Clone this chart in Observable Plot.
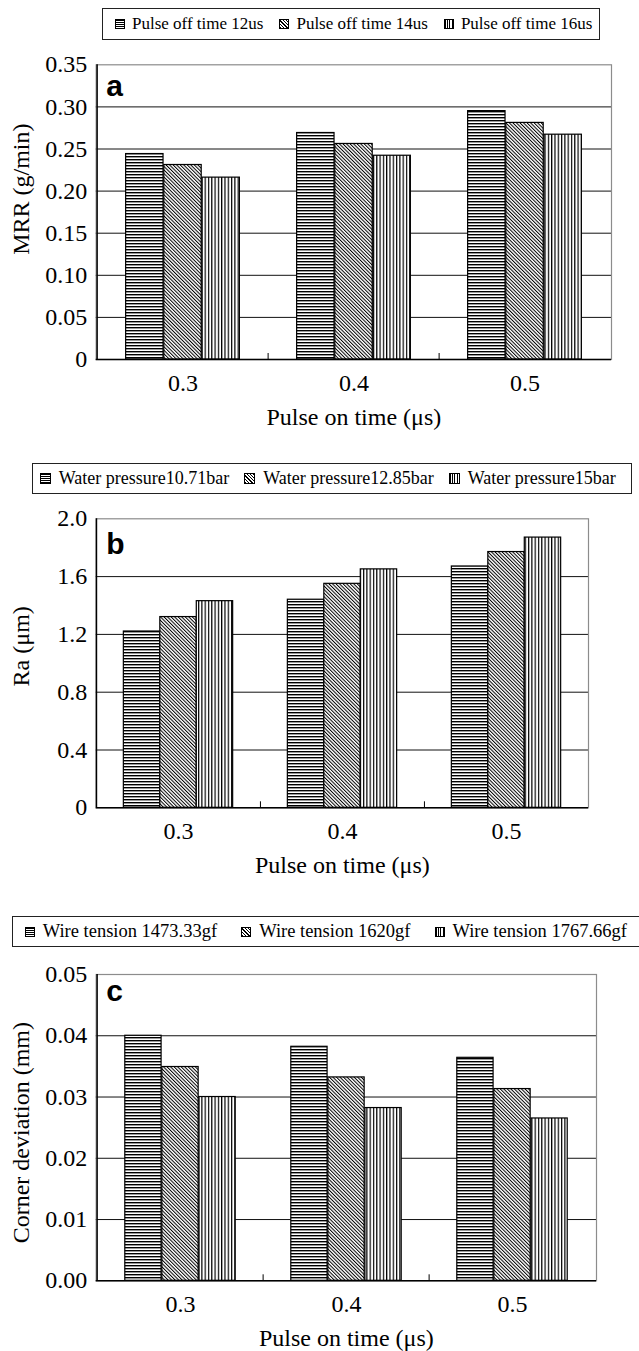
<!DOCTYPE html>
<html><head><meta charset="utf-8">
<script src="https://cdn.jsdelivr.net/npm/d3@7"></script>
<script src="https://cdn.jsdelivr.net/npm/@observablehq/plot@0.6"></script>
<style>
body{margin:0;background:#fff;}
#root{position:relative;width:639px;height:1351px;overflow:hidden;font-family:"Liberation Serif","Times New Roman",serif;color:#000;}
.legend{position:absolute;box-sizing:border-box;border:1px solid #222;display:flex;align-items:center;white-space:nowrap;background:#fff;}
.sw{display:inline-block;flex:none;box-sizing:border-box;border:1px solid #000;}
.plot{position:absolute;left:0;}
</style></head><body>
<svg width="0" height="0" style="position:absolute">
  <defs>
    <pattern id="pat0" width="6" height="3" patternUnits="userSpaceOnUse"><rect width="6" height="3" fill="#fff"/><rect width="6" height="1.4" fill="#000"/></pattern>
    <pattern id="pat1" width="2.5" height="6" patternUnits="userSpaceOnUse" patternTransform="rotate(-45)"><rect width="2.5" height="6" fill="#fff"/><rect width="1" height="6" fill="#000"/></pattern>
    <pattern id="pat2" width="3.3" height="6" patternUnits="userSpaceOnUse"><rect width="3.3" height="6" fill="#fff"/><rect width="1.2" height="6" fill="#000"/></pattern>
  </defs>
</svg>
<div id="root"></div>
<script>
// ---------- data ----------
const categories = ["0.3", "0.4", "0.5"];
const xTitle = "Pulse on time (μs)";

const seriesA = ["Pulse off time 12us", "Pulse off time 14us", "Pulse off time 16us"];
const valuesA = [[0.244, 0.269, 0.295], [0.231, 0.256, 0.281], [0.216, 0.242, 0.267]];
const ticksA = [0, 0.05, 0.10, 0.15, 0.20, 0.25, 0.30, 0.35];
const yTitleA = "MRR (g/min)";

const seriesB = ["Water pressure10.71bar", "Water pressure12.85bar", "Water pressure15bar"];
const valuesB = [[1.22, 1.44, 1.67], [1.32, 1.55, 1.77], [1.43, 1.65, 1.87]];
const ticksB = [0, 0.4, 0.8, 1.2, 1.6, 2.0];
const yTitleB = "Ra (μm)";

const seriesC = ["Wire tension 1473.33gf", "Wire tension 1620gf", "Wire tension 1767.66gf"];
const valuesC = [[0.0400, 0.0382, 0.0364], [0.0349, 0.0332, 0.0313], [0.0300, 0.0282, 0.0265]];
const ticksC = [0, 0.01, 0.02, 0.03, 0.04, 0.05];
const yTitleC = "Corner deviation (mm)";

// ---------- layout ----------
const swatchCss = [
  "repeating-linear-gradient(180deg,#000 0 1px,#fff 1px 2px)",
  "repeating-linear-gradient(45deg,#000 0 1px,#fff 1px 2.4px)",
  "repeating-linear-gradient(90deg,#000 0 1px,#fff 1px 2.2px)"
];
const panels = [
  {tag: "a", series: seriesA, values: valuesA, ticks: ticksA, yTitle: yTitleA,
   fmt: d => d === 0 ? "0" : d.toFixed(2),
   svgTop: 42, height: 400, frameTop: 64.3, frameBottom: 359, frameRight: 611,
   tagDy: 31, yTitleDy: -23,
   legend: {left: 102, top: 8, width: 498, height: 32, font: 17, pad: 12, sw: 10, gapIcon: 7, gapItem: 16}},
  {tag: "b", series: seriesB, values: valuesB, ticks: ticksB, yTitle: yTitleB,
   fmt: d => d === 0 ? "0" : d.toFixed(1),
   svgTop: 496, height: 400, frameTop: 518.3, frameBottom: 807.3, frameRight: 588,
   tagDy: 35, yTitleDy: -17,
   legend: {left: 31.7, top: 462.7, width: 600.5, height: 31, font: 18, pad: 7, sw: 11, gapIcon: 8, gapItem: 15}},
  {tag: "c", series: seriesC, values: valuesC, ticks: ticksC, yTitle: yTitleC,
   fmt: d => d.toFixed(2),
   svgTop: 950, height: 401, frameTop: 974, frameBottom: 1280.3, frameRight: 596,
   tagDy: 26, yTitleDy: 5,
   legend: {left: 11.7, top: 916, width: 640, height: 31, font: 18.5, pad: 12, sw: 10, gapIcon: 8, gapItem: 24}}
];

const root = document.getElementById("root");
const W = 639, ML = 95.7;

for (const p of panels) {
  // legend (HTML, above the SVG)
  const L = p.legend;
  const lg = document.createElement("div");
  lg.className = "legend";
  Object.assign(lg.style, {left: L.left + "px", top: L.top + "px", width: L.width + "px", height: L.height + "px",
    paddingLeft: L.pad + "px", fontSize: L.font + "px"});
  p.series.forEach((s, j) => {
    const sw = document.createElement("span");
    sw.className = "sw";
    Object.assign(sw.style, {width: L.sw + "px", height: L.sw + "px", background: swatchCss[j],
      marginRight: L.gapIcon + "px", marginLeft: (j ? L.gapItem : 0) + "px"});
    const tx = document.createElement("span");
    tx.textContent = s;
    lg.append(sw, tx);
  });
  root.append(lg);

  // chart
  const mt = p.frameTop - p.svgTop;
  const mb = p.svgTop + p.height - p.frameBottom;
  const mr = W - p.frameRight;
  const bw = (W - ML - mr) / categories.length;
  const plotH = p.height - mt - mb;
  const yMax = p.ticks[p.ticks.length - 1];

  const barMarks = p.series.map((s, j) => {
    const rows = categories.map((c, i) => ({cat: c, value: p.values[j][i], series: s}));
    return Plot.barY(rows, {
      x: "cat", y: "value",
      fill: `url(#pat${j})`, stroke: "#000", strokeWidth: 1.2,
      insetLeft: bw / 6 + j * bw * 2 / 9,
      insetRight: bw - bw / 6 - (j + 1) * bw * 2 / 9
    });
  });

  const svg = Plot.plot({
    width: W, height: p.height,
    marginLeft: ML, marginRight: mr, marginTop: mt, marginBottom: mb,
    style: {fontFamily: "Liberation Serif, Times New Roman, serif", fontSize: "24px", color: "#000", background: "transparent", overflow: "visible"},
    x: {type: "band", domain: categories, padding: 0},
    y: {domain: [0, yMax]},
    marks: [
      Plot.ruleY(p.ticks.slice(1, -1), {stroke: "#111", strokeWidth: 1}),
      Plot.frame({stroke: "#8c8c8c", strokeWidth: 1.2}),
      ...barMarks,
      Plot.tickX([categories[0]], {x: d => d, dx: -bw / 2, stroke: "#000", strokeWidth: 1.5}),
      Plot.ruleY([0], {stroke: "#000", strokeWidth: 1.5}),
      Plot.tickX(categories.slice(1), {x: d => d, dx: -bw / 2, stroke: "#000", strokeWidth: 1, insetTop: plotH - 6}),
      Plot.axisY(p.ticks, {anchor: "left", tickSize: 0, tickPadding: 9, tickFormat: p.fmt, fontSize: 24, label: null}),
      Plot.axisX({anchor: "bottom", tickSize: 0, tickPadding: 14.5, fontSize: 24, label: null}),
      Plot.text([xTitle], {frameAnchor: "bottom", dy: 58, textAnchor: "middle", lineAnchor: "middle", fontSize: 24}),
      Plot.text([p.yTitle], {frameAnchor: "left", rotate: -90, dx: -75, dy: p.yTitleDy, textAnchor: "middle", lineAnchor: "middle", fontSize: 24}),
      Plot.text([p.tag], {frameAnchor: "top-left", dx: 10, dy: p.tagDy, textAnchor: "start", lineAnchor: "bottom",
        fontFamily: "Liberation Sans, Arial, sans-serif", fontWeight: "bold", fontSize: 30})
    ]
  });
  svg.classList.add("plot");
  svg.style.top = p.svgTop + "px";
  root.append(svg);
}
</script>
</body></html>
